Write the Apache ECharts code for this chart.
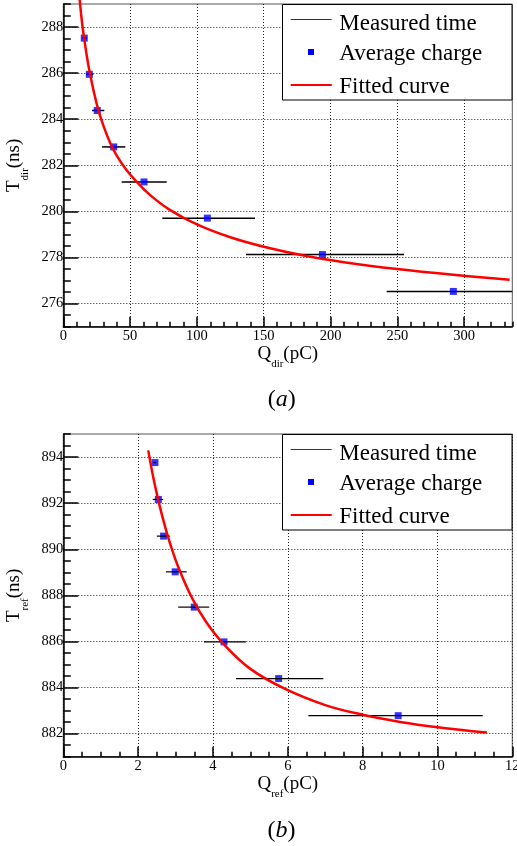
<!DOCTYPE html>
<html><head><meta charset="utf-8">
<script src="https://cdn.jsdelivr.net/npm/echarts@6/dist/echarts.min.js"></script>
<style>html,body{margin:0;padding:0;background:#fff;}#c{width:517px;height:846px;}</style>
</head><body><div id="c"></div>
<script>
// ---------- data: panel (a) ----------
const dirQ    = [15.7, 19.5, 25.4, 37.7, 60.4, 107.8, 193.9, 291.9];
const dirT    = [287.52, 285.95, 284.38, 282.8, 281.28, 279.71, 278.13, 276.53];
const dirQlo  = [14.0, 17.0, 21.5, 29.0, 43.7, 74.1, 136.7, 242.0];
const dirQhi  = [17.6, 22.5, 30.7, 46.4, 77.4, 143.5, 255.0, 342.0];
const dirFitQ = [11.9, 12.5, 13.3, 14.3, 15.7, 18, 20, 23, 26, 30, 35, 40, 47, 55, 65, 80, 100, 125, 150, 180, 210, 250, 290, 334];
const dirFitT = [289.40, 289.05, 288.58, 288.06, 287.47, 286.60, 285.97, 285.15, 284.45, 283.72, 282.98, 282.42, 281.82, 281.28, 280.71, 280.06, 279.44, 278.88, 278.47, 278.09, 277.80, 277.50, 277.26, 277.04];
const dirXTicks = [0, 50, 100, 150, 200, 250, 300];
const dirYTicks = [276, 278, 280, 282, 284, 286, 288];

// ---------- data: panel (b) ----------
const refQ    = [2.45, 2.54, 2.68, 2.99, 3.50, 4.295, 5.756, 8.95];
const refT    = [893.76, 892.16, 890.57, 889.02, 887.49, 885.98, 884.39, 882.78];
const refQlo  = [2.41, 2.39, 2.50, 2.745, 3.07, 3.76, 4.615, 6.55];
const refQhi  = [2.48, 2.67, 2.85, 3.30, 3.90, 4.88, 6.95, 11.21];
const refFitQ = [2.27, 2.4, 2.54, 2.7, 2.87, 3.1, 3.43, 3.8, 4.28, 5.0, 5.93, 7.0, 8.0, 9.0, 10.0, 11.32];
const refFitT = [894.29, 893.16, 892.12, 891.10, 890.17, 889.12, 887.92, 886.89, 885.90, 884.81, 883.94, 883.24, 882.82, 882.51, 882.28, 882.05];
const refXTicks = [0, 2, 4, 6, 8, 10, 12];
const refYTicks = [882, 884, 886, 888, 890, 892, 894];

const legendNames = ['Measured time', 'Average charge', 'Fitted curve'];

const SERIF = "'Liberation Serif', 'DejaVu Serif', serif";
const chart = echarts.init(document.getElementById('c'), null, {renderer: 'canvas'});

function pairs(a, b) { return a.map((v, i) => [v, b[i]]); }
function bars(lo, hi, t) { return lo.map((v, i) => [v, hi[i], t[i]]); }

const nameStyle = {
  fontFamily: SERIF, fontSize: 19, color: '#000',
  rich: {
    m: {fontFamily: SERIF, fontSize: 19, lineHeight: 20, verticalAlign: 'bottom', padding: [0, 0, 7, 0], color: '#000'},
    s: {fontFamily: SERIF, fontSize: 11, lineHeight: 12, verticalAlign: 'bottom', color: '#000'}
  }
};
const axisLineStyle = {color: '#000', width: 1.5};

function majorX(gi, min, max, ticks, name, gap) {
  return {
    gridIndex: gi, type: 'value', min: min, max: max, position: 'bottom',
    axisLine: {show: true, onZero: false, lineStyle: axisLineStyle},
    axisTick: {show: true, inside: true, length: 10, customValues: ticks, lineStyle: axisLineStyle},
    axisLabel: {show: true, customValues: ticks, margin: 1.5, fontFamily: SERIF, fontSize: 14.5, color: '#000', showMinLabel: true, showMaxLabel: true, hideOverlap: false},
    splitLine: {show: true, lineStyle: {type: [1, 2], color: '#222', width: 1}},
    name: name, nameLocation: 'middle', nameGap: gap, nameTextStyle: nameStyle
  };
}
function minorX(gi, min, max, step) {
  return {
    gridIndex: gi, type: 'value', min: min, max: max, interval: step, position: 'bottom',
    axisLine: {show: false, onZero: false},
    axisTick: {show: true, inside: true, length: 5, lineStyle: axisLineStyle},
    axisLabel: {show: false}, splitLine: {show: false}
  };
}
function majorY(gi, min, max, ticks, name, gap) {
  return {
    gridIndex: gi, type: 'value', min: min, max: max, position: 'left',
    axisLine: {show: true, onZero: false, lineStyle: axisLineStyle},
    axisTick: {show: true, inside: true, length: 15, customValues: ticks, lineStyle: axisLineStyle},
    axisLabel: {show: true, customValues: ticks, margin: 0, fontFamily: SERIF, fontSize: 14.5, color: '#000', hideOverlap: false},
    splitLine: {show: true, lineStyle: {type: [1, 2], color: '#222', width: 1}},
    name: name, nameLocation: 'middle', nameGap: gap, nameRotate: 90, nameTextStyle: nameStyle
  };
}
function minorY(gi, min, max, step) {
  return {
    gridIndex: gi, type: 'value', min: min, max: max, interval: step, position: 'left',
    axisLine: {show: false, onZero: false},
    axisTick: {show: true, inside: true, length: 7.5, lineStyle: axisLineStyle},
    axisLabel: {show: false}, splitLine: {show: false}
  };
}

function errSeries(xi, yi, data, lw, z) {
  return {
    type: 'custom', name: legendNames[0], xAxisIndex: xi, yAxisIndex: yi, z: z,
    encode: {x: [0, 1], y: 2},
    data: data,
    renderItem: function (params, api) {
      const a = api.coord([api.value(0), api.value(2)]);
      const b = api.coord([api.value(1), api.value(2)]);
      const cs = params.coordSys;
      const x1 = Math.max(a[0], cs.x), x2 = Math.min(b[0], cs.x + cs.width);
      return {type: 'line', shape: {x1: x1, y1: a[1], x2: x2, y2: b[1]},
        style: {stroke: '#000', lineWidth: lw}};
    }
  };
}
function ptSeries(xi, yi, data, z) {
  return {type: 'scatter', name: legendNames[1], xAxisIndex: xi, yAxisIndex: yi, z: z,
    symbol: 'rect', symbolSize: 7, itemStyle: {color: '#0000ff'}, data: data, silent: true};
}
function fitSeries(xi, yi, data) {
  return {type: 'line', name: legendNames[2], xAxisIndex: xi, yAxisIndex: yi, z: 5,
    showSymbol: false, symbol: 'none', smooth: 0.4, clip: false,
    lineStyle: {color: '#ff0000', width: 2.5}, data: data, silent: true};
}

function legendBox(dy) {
  const t = (txt, y) => ({type: 'text', z: 100, style: {text: txt, x: 339.3, y: y + dy,
    font: '23px ' + SERIF, fill: '#000', verticalAlign: 'middle', align: 'left'}});
  return [
    {type: 'rect', z: 99, shape: {x: 282.5, y: 4.5 + dy, width: 229.5, height: 95.5},
      style: {fill: '#fff', stroke: '#000', lineWidth: 1}},
    {type: 'line', z: 100, shape: {x1: 290.7, y1: 19.5 + dy, x2: 331.7, y2: 19.5 + dy},
      style: {stroke: '#333', lineWidth: 1}},
    {type: 'rect', z: 100, shape: {x: 308, y: 49 + dy, width: 6, height: 6}, style: {fill: '#0000ff'}},
    {type: 'line', z: 100, shape: {x1: 290.7, y1: 85 + dy, x2: 331.7, y2: 85 + dy},
      style: {stroke: '#ff0000', lineWidth: 2}},
    t(legendNames[0], 23.9), t(legendNames[1], 53.9), t(legendNames[2], 87)
  ];
}
function caption(letter, x, y) {
  return {type: 'text', z: 100, style: {
    text: '{p|(}{i|' + letter + '}{p|)}', x: x, y: y, align: 'center', verticalAlign: 'middle',
    rich: {p: {fontFamily: SERIF, fontSize: 24, fill: '#000'},
           i: {fontFamily: SERIF, fontSize: 24, fontStyle: 'italic', fill: '#000'}}}};
}

const option = {
  animation: false,
  backgroundColor: '#fff',
  grid: [
    {left: 63.3, top: 4, width: 449, height: 322.7, show: true, borderColor: '#555', borderWidth: 1, backgroundColor: 'transparent', containLabel: false, outerBoundsMode: 'none'},
    {left: 63.3, top: 434, width: 449, height: 322.7, show: true, borderColor: '#555', borderWidth: 1, backgroundColor: 'transparent', containLabel: false, outerBoundsMode: 'none'}
  ],
  xAxis: [
    majorX(0, 0, 336, dirXTicks, '{m|Q}{s|dir}{m|(pC)}', 19),
    minorX(0, 0, 336, 10),
    majorX(1, 0, 12, refXTicks, '{m|Q}{s|ref}{m|(pC)}', 20.5),
    minorX(1, 0, 12, 0.5)
  ],
  yAxis: [
    majorY(0, 275, 289, dirYTicks, '{m|T}{s|dir}{m|(ns)}', 27),
    minorY(0, 275, 289, 0.5),
    majorY(1, 881, 895, refYTicks, '{m|T}{s|ref}{m|(ns)}', 27),
    minorY(1, 881, 895, 0.5)
  ],
  series: [
    errSeries(0, 0, bars(dirQlo, dirQhi, dirT), 1.5, 2),
    ptSeries(0, 0, pairs(dirQ, dirT), 3),
    fitSeries(0, 0, pairs(dirFitQ, dirFitT)),
    ptSeries(2, 2, pairs(refQ, refT), 2),
    errSeries(2, 2, bars(refQlo, refQhi, refT), 1.2, 3),
    fitSeries(2, 2, pairs(refFitQ, refFitT))
  ],
  graphic: [].concat(legendBox(0), legendBox(430), [caption('a', 281.7, 400), caption('b', 281.5, 831)])
};
chart.setOption(option);
</script></body></html>
